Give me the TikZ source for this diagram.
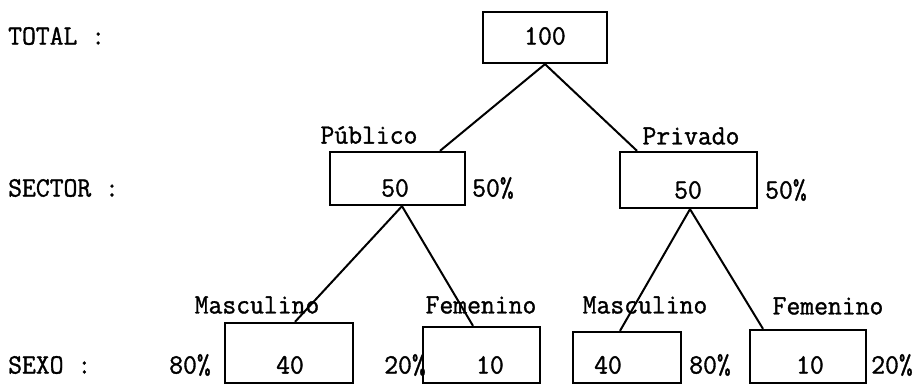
\documentclass[tikz,border=0pt]{standalone}
\usepackage{fontspec}
\newfontfamily\typewr{Latin Modern Mono}[FakeBold=1.2,FakeStretch=0.96]
\begin{document}
\begin{tikzpicture}[x=1pt,y=-1pt,
    every node/.style={font=\typewr\fontsize{28}{32}\selectfont,inner sep=0pt}]
      \useasboundingbox (0,0) rectangle (917,385);
      % row titles
      \node[anchor=west] (r_total) at (8,36) {TOTAL :};
      \node[anchor=west] (r_sector) at (8,188) {SECTOR :};
      \node[anchor=west] (r_sexo) at (8,365) {SEXO :};
      \begin{scope}[every node/.style={draw,line width=2.3pt}]
        \node[minimum width=124pt,minimum height=51pt] (b_t) at (545,37.5) {};
        \node[minimum width=135pt,minimum height=53pt] (b_pu) at (397.5,178.5) {};
        \node[minimum width=137pt,minimum height=56pt] (b_pr) at (688.5,180) {};
        \node[minimum width=128pt,minimum height=60pt] (b_pm) at (289,353) {};
        \node[minimum width=117pt,minimum height=56pt] (b_pf) at (481.5,355) {};
        \node[minimum width=108pt,minimum height=51pt] (b_rm) at (627,357.5) {};
        \node[minimum width=116pt,minimum height=53pt] (b_rf) at (808,356.5) {};
      \end{scope}
      % values
      \node (v_t) at (545,36) {100};
      \node (v_pu) at (395,188) {50};
      \node (v_pr) at (688,190) {50};
      \node (v_pm) at (290,365) {40};
      \node (v_pf) at (490,365) {10};
      \node (v_rm) at (608,365) {40};
      \node (v_rf) at (810,365) {10};
      % branch labels
      \node (l_pu) at (369,135) {Público};
      \node (l_pr) at (691,136) {Privado};
      \node (l_pm) at (257,305) {Masculino};
      \node (l_pf) at (481,305) {Femenino};
      \node (l_rm) at (645,305) {Masculino};
      \node (l_rf) at (828,306) {Femenino};
      % shares
      \node[anchor=west] (s_pu) at (472,188) {50\%};
      \node[anchor=west] (s_pr) at (765,190) {50\%};
      \node (s_pm) at (190,365) {80\%};
      \node (s_pf) at (405,365) {20\%};
      \node (s_rm) at (710,365) {80\%};
      \node (s_rf) at (892,365) {20\%};
      \begin{scope}[every edge/.style={draw=black,line width=2pt}]
        \path (b_t.south) edge ([xshift=42.5pt]b_pu.north);
        \path (b_t.south) edge ([xshift=-51.5pt]b_pr.north);

        \path ([xshift=4.5pt]b_pu.south) edge ([xshift=6pt]b_pm.north);
        \path ([xshift=4.5pt]b_pu.south) edge ([xshift=-8.5pt]b_pf.north);
        \path ([xshift=1.5pt]b_pr.south) edge ([xshift=-7pt]b_rm.north);
        \path ([xshift=1.5pt]b_pr.south) edge ([xshift=-45pt]b_rf.north);
      \end{scope}
    \end{tikzpicture}
\end{document}
